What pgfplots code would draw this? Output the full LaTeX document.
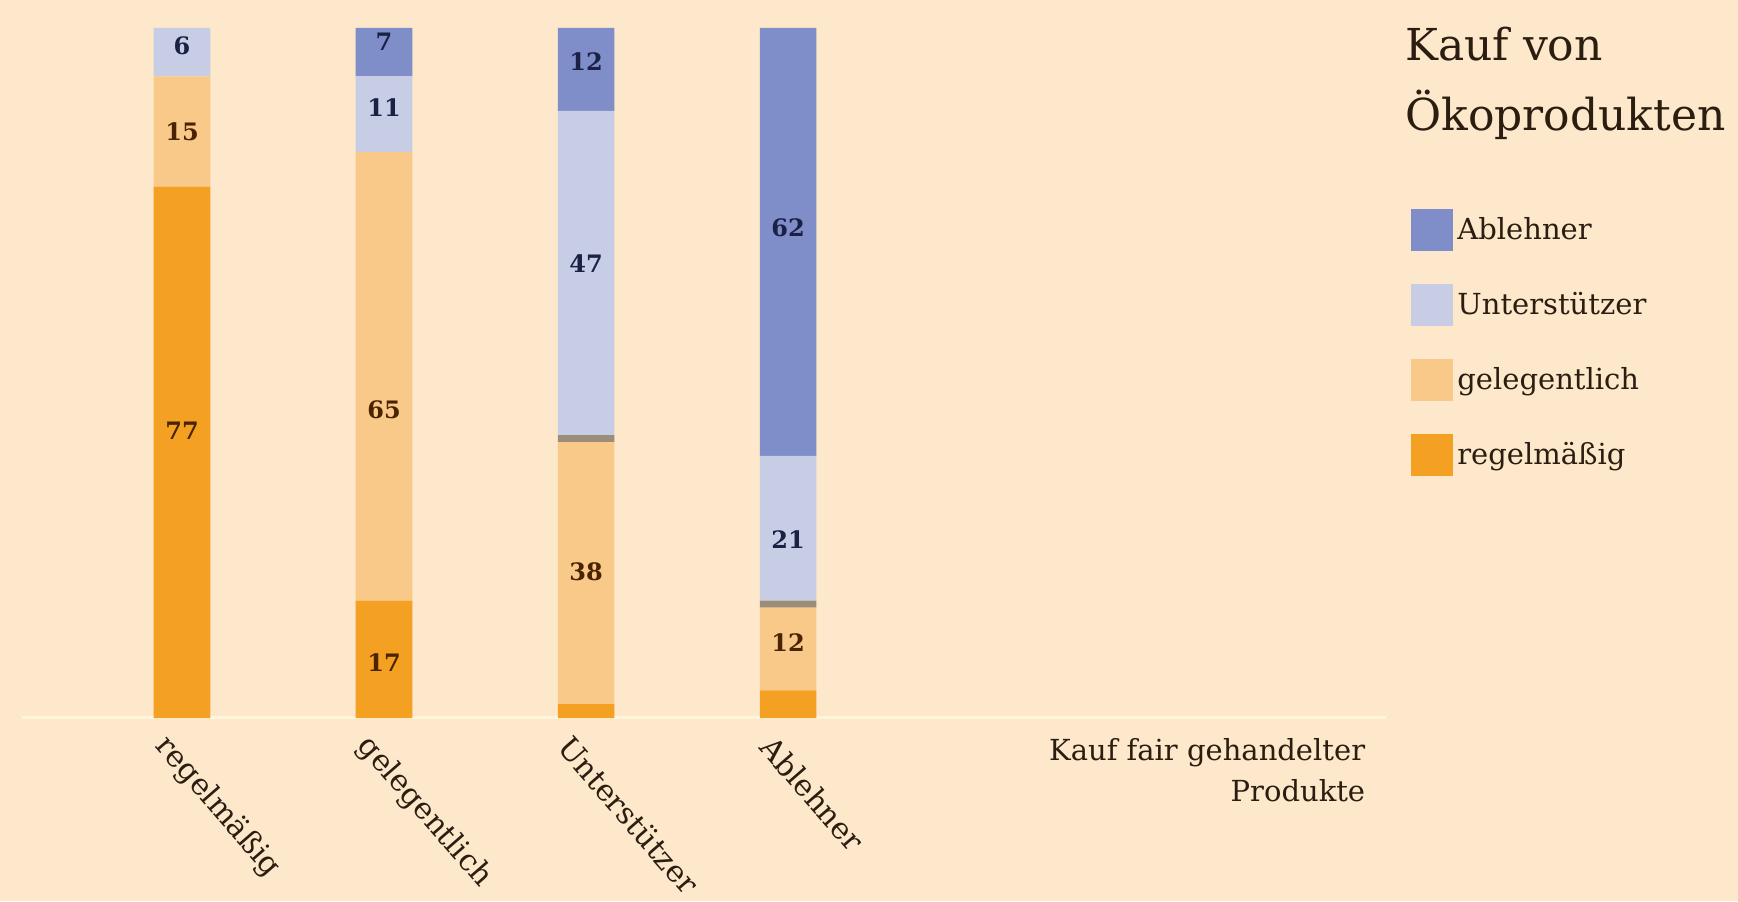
\documentclass[border=0pt]{standalone}
\usepackage{fontspec}
\setmainfont{DejaVu Serif}
\usepackage{pgfplots}
\pgfplotsset{compat=1.18}
\definecolor{bgcol}{HTML}{FDE8CC}
\definecolor{cabl}{HTML}{7F8DC9}
\definecolor{cunt}{HTML}{C7CDE5}
\definecolor{cgel}{HTML}{F9C98A}
\definecolor{creg}{HTML}{F4A023}
\definecolor{cgrey}{HTML}{9C8C7A}
\definecolor{labcol}{HTML}{2B1D10}
\definecolor{brownlab}{HTML}{4A2300}
\definecolor{navylab}{HTML}{1A2145}
\definecolor{baseln}{HTML}{FFF6DA}
\begin{document}
\begin{tikzpicture}[x=1pt,y=1pt]
\fill[bgcol] (0,0) rectangle (869,450.5);
\pgfplotsset{commonax/.style={
  at={(11pt,91.5pt)}, anchor=south west, scale only axis,
  width=682pt, height=345pt,
  xmin=-0.792, xmax=5.96, ymin=0, ymax=100,
}}
\begin{axis}[commonax,
  ybar stacked, bar width=0.28,
  xtick={0,1,2,3},
  xticklabels={regelmäßig, gelegentlich, Unterstützer, Ablehner},
  ytick=\empty,
  axis line style={draw=none},
  major tick length=0pt,
  xticklabel style={font=\fontsize{15}{16}\selectfont, text=labcol, xshift=-13pt, yshift=-9pt, rotate=-49, anchor=west},
  xlabel={Kauf fair gehandelter\\Produkte},
  xlabel style={at={(axis description cs:0.985,0)}, anchor=north east, align=right, inner sep=0pt, yshift=-10pt, font=\fontsize{14.5}{20.5}\selectfont, text=labcol},
  legend style={at={(axis description cs:1.0139,0.7435)}, anchor=north west, draw=none, fill=none,
    font=\fontsize{14.5}{16}\selectfont, text=labcol, row sep=16.5pt, cells={anchor=west},
    /tikz/every even column/.append style={column sep=12pt}},
  legend image code/.code={\fill[#1] (0pt,-10.5pt) rectangle (21pt,10.5pt);},
  reverse legend,
]
\addplot[fill=creg, draw=none] coordinates {(0,77) (1,17) (2,2) (3,4)};
\addlegendentry{regelmäßig}
\addplot[fill=cgel, draw=none] coordinates {(0,16) (1,65) (2,38) (3,12)};
\addlegendentry{gelegentlich}
\addplot[fill=cgrey, draw=none, forget plot] coordinates {(0,0) (1,0) (2,1) (3,1)};
\addplot[fill=cunt, draw=none] coordinates {(0,7) (1,11) (2,47) (3,21)};
\addlegendentry{Unterstützer}
\addplot[fill=cabl, draw=none] coordinates {(0,0) (1,7) (2,12) (3,62)};
\addlegendentry{Ablehner}
\draw[baseln, line width=2pt] (axis cs:-0.792,0) -- (axis cs:5.96,0);
\end{axis}
\begin{axis}[commonax, hide axis]
\addplot[draw=none, mark=none, nodes near coords, point meta=explicit symbolic,
  nodes near coords style={anchor=center, font=\bfseries\fontsize{12}{14}\selectfont, text=brownlab}]
  coordinates {(0,41.7)[77] (0,85)[15] (1,8.1)[17] (1,44.6)[65] (2,21.2)[38] (3,10.9)[12]};
\addplot[draw=none, mark=none, nodes near coords, point meta=explicit symbolic,
  nodes near coords style={anchor=center, font=\bfseries\fontsize{12}{14}\selectfont, text=navylab}]
  coordinates {(0,97.4)[6] (1,98)[7] (1,88.5)[11] (2,95.2)[12] (2,65.8)[47] (3,71)[62] (3,25.8)[21]};
\end{axis}
\node[anchor=base west, inner sep=0pt, text=labcol, font=\fontsize{22}{26}\selectfont] at (702.5,420) {Kauf von};
\node[anchor=base west, inner sep=0pt, text=labcol, font=\fontsize{22}{26}\selectfont] at (702.5,385) {Ökoprodukten};
\pgfresetboundingbox
\path[use as bounding box] (0,0) rectangle (869,450.5);
\end{tikzpicture}
\end{document}
